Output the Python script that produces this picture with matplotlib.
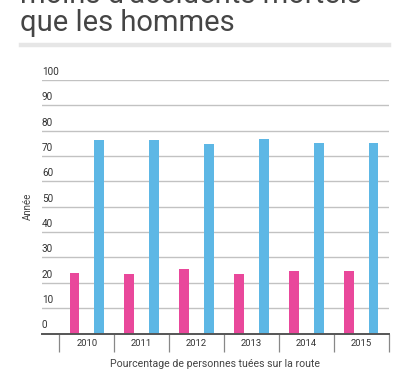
import matplotlib
matplotlib.use("Agg")
import matplotlib.pyplot as plt
from matplotlib.transforms import blended_transform_factory, offset_copy
import numpy as np

years = ["2010", "2011", "2012", "2013", "2014", "2015"]
femmes = [23.8, 23.6, 25.3, 23.3, 24.8, 24.8]
hommes = [76.2, 76.4, 74.7, 76.7, 75.2, 75.2]
yticks = [0, 10, 20, 30, 40, 50, 60, 70, 80, 90, 100]

W, H = 402, 372
fig = plt.figure(figsize=(W / 100, H / 100), dpi=100)
plt.rcParams['font.family'] = ['Roboto', 'DejaVu Sans']

def fx(px):
    return px / W

def fy(py):
    return 1 - py / H

# Title (first line cut off at top, as in the reference)
fig.text(fx(20), fy(31), "moins d'accidents mortels\nque les hommes", fontsize=21,
         color="#454545", ha="left", va="baseline", linespacing=1.0)
fig.add_artist(plt.Line2D([fx(21), fx(389)], [fy(45), fy(45)], color="#e6e6e6", lw=3.2,
                          transform=fig.transFigure))

ax = fig.add_axes([fx(42), fy(333.5), fx(389) - fx(42), fy(80) - fy(333.5)])
x = np.arange(len(years))
ax.bar(x - 0.224, femmes, width=0.18, color="#e9489b", zorder=3)
ax.bar(x + 0.218, hommes, width=0.18, color="#5db7e5", zorder=3)

ax.set_xlim(-0.815, 5.5)
ax.set_ylim(0, 100)
for s in ["top", "right", "left"]:
    ax.spines[s].set_visible(False)
ax.spines["bottom"].set_color("#555555")
ax.spines["bottom"].set_linewidth(1.4)
ax.spines["bottom"].set_zorder(4)

for v in yticks[1:]:
    ax.axhline(v, color="#c2c2c2", lw=1.0, zorder=1)
ax.set_yticks([])

tr = blended_transform_factory(ax.transAxes, ax.transData)
for v in yticks:
    ax.text(0.0, v, str(v), transform=offset_copy(tr, fig=fig, x=0, y=2.2, units="points"),
            fontsize=7.2, color="#333333", ha="left", va="bottom")

ax.set_xticks(x)
ax.set_xticklabels(years, fontsize=6.8, color="#333333")
ax.tick_params(axis="x", which="major", length=0, pad=4)
ax.set_xticks(np.arange(-0.5, 6.0, 1.0), minor=True)
ax.tick_params(axis="x", which="minor", length=13, width=0.9, color="#888888")

ax.set_xlabel("Pourcentage de personnes tuées sur la route", fontsize=7.6, color="#444444", labelpad=2)
fig.text(fx(28), fy(206), "Année", rotation=90, fontsize=7.0, color="#444444",
         ha="center", va="center")

fig.savefig("out.png", dpi=100)
